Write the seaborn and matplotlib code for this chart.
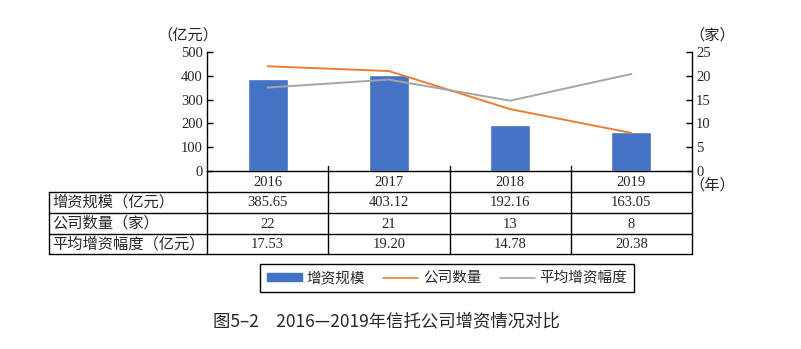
import numpy as np
import pandas as pd
import matplotlib
matplotlib.use("Agg")
import matplotlib.pyplot as plt
import seaborn as sns
from matplotlib.lines import Line2D

sns.set_theme(style="white")
plt.rcParams['font.family'] = ['Liberation Serif', 'Noto Sans CJK SC', 'DejaVu Sans']

years = ["2016", "2017", "2018", "2019"]
scale = [385.65, 403.12, 192.16, 163.05]          # 增资规模（亿元）
count = [22, 21, 13, 8]                            # 公司数量（家）
avg = [17.53, 19.20, 14.78, 20.38]                 # 平均增资幅度（亿元）
row_labels = ["增资规模（亿元）", "公司数量（家）", "平均增资幅度（亿元）"]
row_values = [[f"{v:.2f}" for v in scale], [str(v) for v in count], [f"{v:.2f}" for v in avg]]
left_ticks = [0, 100, 200, 300, 400, 500]
right_ticks = [0, 5, 10, 15, 20, 25]

df = pd.DataFrame({"year": years, "pos": np.arange(len(years)),
                   "scale": scale, "count": count, "avg": avg})

W, H = 801, 349
fig = plt.figure(figsize=(W / 100, H / 100), dpi=100)
fig.patch.set_facecolor("white")

x0, x1, ytop, ybot = 207, 692, 52, 171
ax = fig.add_axes([x0 / W, 1 - ybot / H, (x1 - x0) / W, (ybot - ytop) / H])

BLUE, ORANGE, GRAY = "#4472C4", "#ED7D31", "#A5A5A5"
sns.barplot(data=df, x="pos", y="scale", color=BLUE, width=0.33, ax=ax,
            saturation=1, native_scale=True)
ax.set_xlim(-0.5, len(years) - 0.5)
ax.set_ylim(0, 500)
ax.set_yticks(left_ticks)
ax.set_yticklabels([str(t) for t in left_ticks], fontsize=10.5)
ax.set_xticks([])
ax.set_xlabel("")
ax.set_ylabel("")
if ax.get_legend() is not None:
    ax.get_legend().remove()
for s in ["top", "right"]:
    ax.spines[s].set_visible(False)
for s in ["left", "bottom"]:
    ax.spines[s].set_color("black")
    ax.spines[s].set_linewidth(1.0)
ax.tick_params(axis="y", direction="in", length=4, width=1, color="black", pad=3, left=True)

ax2 = ax.twinx()
sns.lineplot(data=df, x="pos", y="count", color=ORANGE, linewidth=1.4, ax=ax2)
sns.lineplot(data=df, x="pos", y="avg", color=GRAY, linewidth=1.4, ax=ax2)
ax2.set_ylim(0, 25)
ax2.set_yticks(right_ticks)
ax2.set_yticklabels([str(t) for t in right_ticks], fontsize=10.5)
ax2.set_xlim(-0.5, len(years) - 0.5)
ax2.set_xlabel("")
ax2.set_ylabel("")
for s in ["top", "left", "bottom"]:
    ax2.spines[s].set_visible(False)
ax2.spines["right"].set_color("black")
ax2.spines["right"].set_linewidth(1.0)
ax2.tick_params(axis="y", direction="in", length=4, width=1, color="black", pad=3, right=True)

# overlay for table in pixel coordinates
ov = fig.add_axes([0, 0, 1, 1], facecolor="none")
ov.set_xlim(0, W)
ov.set_ylim(H, 0)
ov.axis("off")
lw = 1.0
row_y = [192, 213, 234, 254]
tl = 49
colw = (x1 - x0) / len(years)
bounds = [x0 + i * colw for i in range(len(years) + 1)]
for y in row_y:
    ov.plot([tl, x1], [y, y], color="black", lw=lw)
ov.plot([tl, tl], [row_y[0], row_y[-1]], color="black", lw=lw)
ov.plot([x0, x0], [ybot, row_y[-1]], color="black", lw=lw)
ov.plot([x1, x1], [ybot, row_y[-1]], color="black", lw=lw)
for b in bounds[1:-1]:
    ov.plot([b, b], [ybot - 5, row_y[-1]], color="black", lw=lw)

for i, yr in enumerate(years):
    cx = (bounds[i] + bounds[i + 1]) / 2
    ov.text(cx, (ybot + row_y[0]) / 2 + 0.5, yr, ha="center", va="center", fontsize=10.5)
for r, lab in enumerate(row_labels):
    cy = (row_y[r] + row_y[r + 1]) / 2
    ov.text(tl + 3, cy, lab, ha="left", va="center", fontsize=11)
    for i, v in enumerate(row_values[r]):
        cx = (bounds[i] + bounds[i + 1]) / 2
        ov.text(cx, cy + 0.5, v, ha="center", va="center", fontsize=10.5)

ov.text(188, 35, "（亿元）", ha="center", va="center", fontsize=11)
ov.text(712, 35, "（家）", ha="center", va="center", fontsize=11)
ov.text(712, 185, "（年）", ha="center", va="center", fontsize=11)

# legend
handles = [plt.Rectangle((0, 0), 1, 1, color=BLUE),
           Line2D([], [], color=ORANGE, lw=1.2),
           Line2D([], [], color=GRAY, lw=1.2)]
leg = fig.legend(handles, ["增资规模", "公司数量", "平均增资幅度"], loc="center",
                 bbox_to_anchor=(447 / W, 1 - 278 / H), ncol=3, fontsize=10.5,
                 frameon=True, fancybox=False, edgecolor="black", framealpha=1,
                 handlelength=2.4, handleheight=0.45, columnspacing=1.3,
                 handletextpad=0.3, borderpad=0.45)
leg.get_frame().set_linewidth(1.0)

fig.text(386 / W, 1 - 321 / H, "图5–2　2016—2019年信托公司增资情况对比", ha="center", va="center",
         fontsize=12.5, fontweight="normal", family=["Noto Sans CJK SC", "DejaVu Sans"])

fig.savefig("out.png", dpi=100, facecolor="white")
